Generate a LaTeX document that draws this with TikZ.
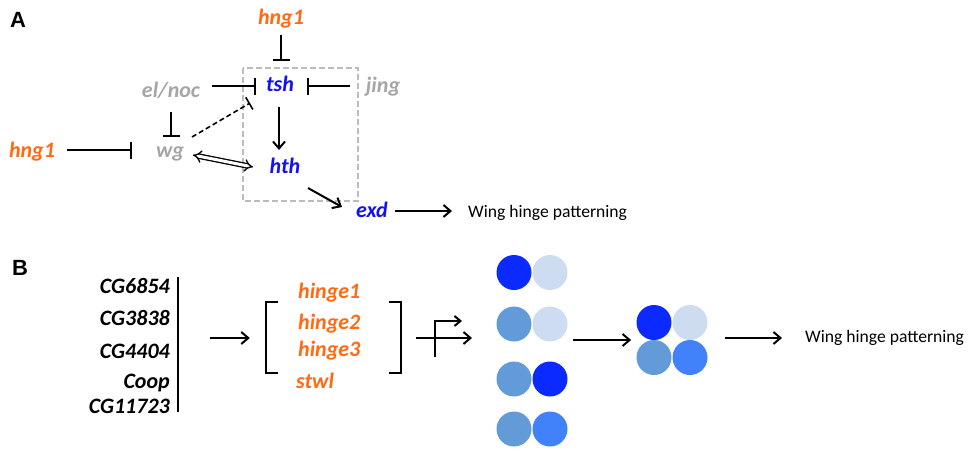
\documentclass[tikz,border=0pt]{standalone}
\usepackage{fontspec}
\setmainfont{Carlito}
\newfontfamily\labfont{Liberation Sans}
\usetikzlibrary{arrows.meta,calc,fit}
\definecolor{gorange}{HTML}{FF6A13}
\definecolor{gblue}{HTML}{1212F2}
\definecolor{ggrey}{HTML}{A6A6A6}
\definecolor{cdark}{HTML}{0A2AFF}
\definecolor{clight}{HTML}{CDDCF0}
\definecolor{cmid}{HTML}{629BD7}
\definecolor{cbright}{HTML}{4182FA}
\begin{document}
\begin{tikzpicture}[x=1pt,y=-1pt,
 gene/.style={inner sep=0pt, text height=15pt, text depth=5pt, font=\fontsize{22}{24}\selectfont\bfseries\itshape},
 orng/.style={gene, text=gorange},
 blu/.style={gene, text=gblue},
 gry/.style={gene, text=ggrey},
 blk/.style={gene, text=black},
 wingtxt/.style={inner sep=0pt, text height=12pt, text depth=4pt, font=\fontsize{17.6}{20}\selectfont},
 panel/.style={inner sep=0pt, font=\labfont\fontsize{22}{24}\selectfont\bfseries},
 conn/.style={line width=2pt},
 inh/.style={conn, -{Bar[width=17pt]}},
 act/.style={conn, -{Straight Barb[length=7pt,width=12pt]}},
 dbl/.style={line width=1.3pt, double, double distance=3pt, {Implies[length=7pt,width=14pt]}-{Implies[length=7pt,width=14pt]}},
 disc/.style={circle, minimum size=35pt, inner sep=0pt},
]
\useasboundingbox (0,0) rectangle (968,450);

% ---------- Panel A ----------
\node[panel, anchor=base west] (labA) at (10,27) {A};
\node[orng] (hngT) at (281,19) {hng1};
\node[blu] (tsh) at (280,86) {tsh};
\node[gry] (elnoc) at (171,92) {el/noc};
\node[gry] (jing) at (383,87) {jing};
\node[gry] (wg) at (170,152) {wg};
\node[orng] (hngL) at (32,152) {hng1};
\node[blu] (hth) at (285,168) {hth};
\node[blu] (exd) at (372,212) {exd};
\node[wingtxt, anchor=base west] (wingA) at (468,217) {Wing hinge patterning};

\draw[ggrey!75, dash pattern=on 6pt off 3pt, line width=1.3pt] (243,68) rectangle (358,201);

\draw[inh] ($(hngT)+(0,16)$) -- ($(tsh)+(1,-25)$);
\draw[inh] ($(elnoc)+(41,-6)$) -- ($(tsh)+(-24,0)$);
\draw[inh] ($(jing)+(-33,-1)$) -- ($(tsh)+(27,0)$);
\draw[inh] ($(elnoc)+(0,20)$) -- ($(wg)+(1,-15)$);
\draw[inh] ($(hngL)+(35,-2)$) -- ($(wg)+(-38,-2)$);
\draw[line width=1.6pt, dash pattern=on 5pt off 3pt, -{Bar[width=14pt]}] ($(wg)+(22,-15)$) -- ($(tsh)+(-30,17)$);
\draw[act] ($(tsh)+(-1,21)$) -- ($(hth)+(-6,-18)$);
\draw[dbl] ($(wg)+(23,3)$) -- ($(hth)+(-32,-1)$);
\draw[act] ($(hth)+(23,20)$) -- ($(exd)+(-30,-5)$);
\draw[act] ($(exd)+(23,-1)$) -- ($(wingA.west)+(-16,-2)$);

% ---------- Panel B ----------
\node[panel, anchor=base west] (labB) at (12,275) {B};
\node[blk, anchor=base east] (cg1) at (170,293) {CG6854};
\node[blk, anchor=base east] (cg2) at (170,325) {CG3838};
\node[blk, anchor=base east] (cg3) at (170,358) {CG4404};
\node[blk, anchor=base east] (cg4) at (170,388) {Coop};
\node[blk, anchor=base east] (cg5) at (170,413) {CG11723};
\draw[conn] (178,277) -- (178,412);
\coordinate (listbar) at (178,338);

\node[fit={(266,302) (401,373)}, inner sep=0pt] (hgroup) {};
\node[orng, anchor=base west] (h1) at (298,298) {hinge1};
\node[orng, anchor=base west] (h2) at (298,329) {hinge2};
\node[orng, anchor=base west] (h3) at (298,356) {hinge3};
\node[orng, anchor=base west] (h4) at (296,388) {stwl};
\draw[line width=2.2pt] ($(hgroup.north west)+(12,0)$) -- (hgroup.north west) -- (hgroup.south west) -- ++(12,0);
\draw[line width=2.2pt] ($(hgroup.north east)+(-12,0)$) -- (hgroup.north east) -- (hgroup.south east) -- ++(-12,0);

\draw[act] ($(listbar)+(32,0)$) -- ($(hgroup.west |- listbar)+(-16,0)$);

\coordinate (prom) at (435,338);
\draw[conn, -{Straight Barb[length=6pt,width=10pt]}] ($(prom)+(0,19)$) -- ($(prom)+(0,-17)$) -- ($(prom)+(27,-17)$);
\draw[act] ($(prom)+(-19,0)$) -- ($(prom)+(37,0)$);

\node[disc, fill=cdark]  (c1a) at (514,272.5) {};
\node[disc, fill=clight] (c1b) at (550,272.5) {};
\node[disc, fill=cmid]   (c2a) at (514,324) {};
\node[disc, fill=clight] (c2b) at (550,324) {};
\node[disc, fill=cmid]   (c3a) at (514,379) {};
\node[disc, fill=cdark]  (c3b) at (550,379) {};
\node[disc, fill=cmid]   (c4a) at (514,429) {};
\node[disc, fill=cbright](c4b) at (550,429) {};
\node[fit=(c1a)(c4b), inner sep=0pt] (col) {};

\node[disc, fill=cmid]   (k3) at (654,357.5) {};
\node[disc, fill=cbright](k4) at (690,357.5) {};
\node[disc, fill=cdark]  (k1) at (654,322.5) {};
\node[disc, fill=clight] (k2) at (690,322.5) {};
\node[fit=(k1)(k4), inner sep=0pt] (clus) {};

\node[wingtxt, anchor=base west] (wingB) at (805,342) {Wing hinge patterning};

\draw[act, shorten <=5pt, shorten >=5pt] (col.east |- clus.west) -- (clus.west);
\draw[act, shorten <=17pt, shorten >=23pt] (clus.east |- wingB.west) -- (wingB.west);
\end{tikzpicture}
\end{document}
